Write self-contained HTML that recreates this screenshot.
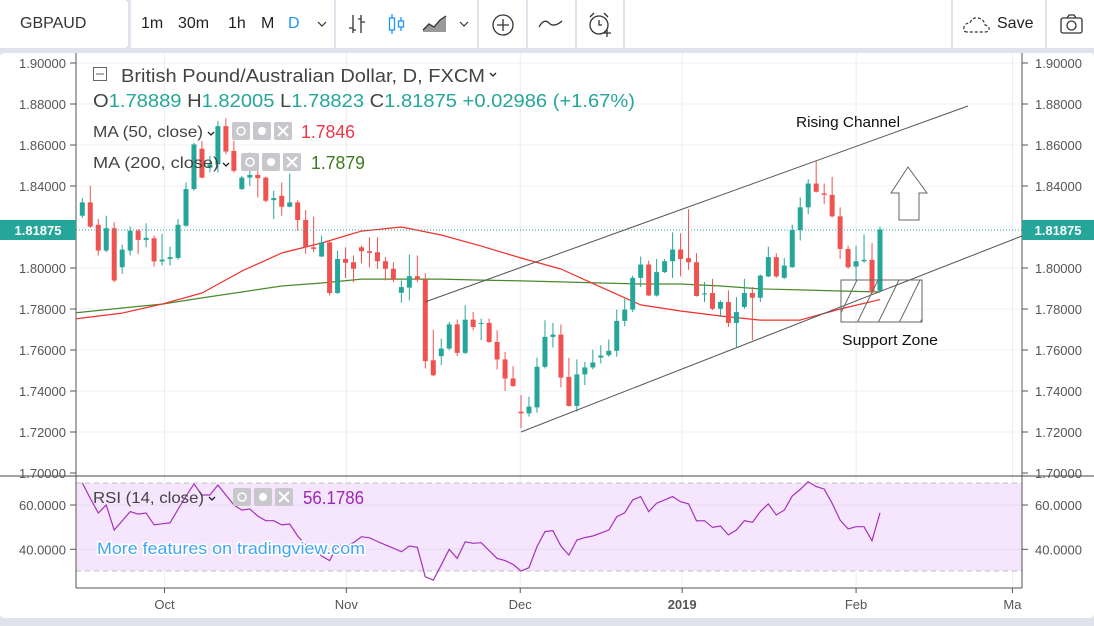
<!DOCTYPE html>
<html><head><meta charset="utf-8">
<style>
html,body{margin:0;padding:0;background:#e0e3eb;}
body{width:1094px;height:626px;overflow:hidden;position:relative;font-family:"Liberation Sans",sans-serif;}
.tb{position:absolute;top:0;height:48px;background:#fff;}
.tt{position:absolute;top:15px;font-size:16px;color:#222;}
</style></head>
<body>
<div style="position:absolute;left:0;top:0;width:1094px;height:48px;">
 <div class="tb" style="left:0;width:128px;border-radius:0 4px 4px 0"><span class="tt" style="left:20px;font-size:16px;color:#333">GBPAUD</span></div>
 <div class="tb" style="left:131px;width:203px;">
  <span class="tt" style="left:10px">1m</span>
  <span class="tt" style="left:47px">30m</span>
  <span class="tt" style="left:97px">1h</span>
  <span class="tt" style="left:130px">M</span>
  <span class="tt" style="left:157px;color:#2196f3">D</span>
  <svg style="position:absolute;left:186px;top:20px" width="10" height="8"><path d="M1 2 L5 6 L9 2" stroke="#333" fill="none" stroke-width="1.2"/></svg>
 </div>
 <div class="tb" style="left:336px;width:141px;">
  <svg style="position:absolute;left:10px;top:13px" width="22" height="22"><path d="M7 2 V20 M3 15 H7 M7 17 H10 M15 2 V20 M12 6 H15 M15 9 H19" stroke="#333" stroke-width="1.3" fill="none"/></svg>
  <svg style="position:absolute;left:50px;top:13px" width="22" height="22"><path d="M6 1 V21 M15 4 V18" stroke="#2196f3" stroke-width="1.3"/><rect x="3.5" y="5" width="5" height="12" fill="#fff" stroke="#2196f3" stroke-width="1.3"/><rect x="12.5" y="8" width="5" height="6" fill="#fff" stroke="#2196f3" stroke-width="1.3"/></svg>
  <svg style="position:absolute;left:86px;top:14px" width="26" height="20"><path d="M1 16 L7 10 L12 13 L18 6 L24 2 L24 18 L1 18 Z" fill="#999"/><path d="M1 16 L7 10 L12 13 L18 6 L24 2" stroke="#333" stroke-width="1.3" fill="none"/></svg>
  <svg style="position:absolute;left:123px;top:20px" width="10" height="8"><path d="M1 2 L5 6 L9 2" stroke="#333" fill="none" stroke-width="1.2"/></svg>
 </div>
 <div class="tb" style="left:479px;width:47px;"><svg style="position:absolute;left:12px;top:13px" width="24" height="24"><circle cx="12" cy="12" r="10" stroke="#333" stroke-width="1.3" fill="none"/><path d="M12 6 V18 M6 12 H18" stroke="#333" stroke-width="1.3"/></svg></div>
 <div class="tb" style="left:528px;width:47px;"><svg style="position:absolute;left:10px;top:16px" width="26" height="16"><path d="M1 11 Q6 2 11 7 T24 5" stroke="#333" stroke-width="1.3" fill="none"/></svg></div>
 <div class="tb" style="left:577px;width:46px;"><svg style="position:absolute;left:10px;top:11px" width="28" height="28"><circle cx="12" cy="14" r="9" stroke="#333" stroke-width="1.3" fill="none"/><path d="M12 9 V14 H15 M3 6 L7 2 M21 6 L17 2 M20 18 V26 M16 22 H24" stroke="#333" stroke-width="1.3" fill="none"/></svg></div>
 <div class="tb" style="left:625px;width:326px;"></div>
 <div class="tb" style="left:953px;width:92px;"><svg style="position:absolute;left:10px;top:15px" width="30" height="20"><path d="M4 17 Q0 17 1 12 Q2 8 7 8 Q9 2 15 3 Q21 4 22 10 Q27 11 26 15 Q25 17 22 17 Z" stroke="#333" stroke-dasharray="3 2" fill="none" stroke-width="1.2"/></svg><span class="tt" style="left:44px;color:#222">Save</span></div>
 <div class="tb" style="left:1047px;width:47px;"><svg style="position:absolute;left:12px;top:13px" width="26" height="22"><rect x="2" y="5" width="21" height="15" rx="2" stroke="#333" stroke-width="1.3" fill="none"/><path d="M8 5 L10 2 H15 L17 5" stroke="#333" stroke-width="1.3" fill="none"/><circle cx="12.5" cy="12.5" r="4.5" stroke="#333" stroke-width="1.3" fill="none"/></svg></div>
</div>

<svg id="chart" style="position:absolute;left:0;top:0" width="1094" height="626">
 <defs>
  <pattern id="hatch" patternUnits="userSpaceOnUse" width="21" height="43" x="841" y="280">
   <path d="M-5 43 L16 0 M16 43 L37 0" stroke="#666" stroke-width="1"/>
  </pattern>
 </defs>
 <rect x="0" y="53" width="1094" height="565" rx="4" fill="#fff"/>
 <g id="grid"></g>
 <rect x="76" y="483" width="946" height="88" fill="#f5e6fd"/>
 <g id="rsigrid"></g>
 <line x1="76" x2="1022" y1="483" y2="483" stroke="#bdbdbd" stroke-dasharray="5 4"/>
 <line x1="76" x2="1022" y1="571" y2="571" stroke="#bdbdbd" stroke-dasharray="5 4"/>
 <g id="ma"></g>
 <g id="candles"></g>
 <g id="rsi"></g>
 <line x1="76" x2="1022" y1="230" y2="230" stroke="#26a69a" stroke-dasharray="1 2"/>
 <line x1="425" y1="302" x2="968" y2="106" stroke="#555" stroke-width="1"/>
 <line x1="521" y1="432" x2="1022" y2="236" stroke="#555" stroke-width="1"/>
 <rect x="841" y="280" width="81" height="42" fill="url(#hatch)" stroke="#666"/>
 <path d="M908 167 L927 193 L919 193 L919 220 L899 220 L899 193 L891 193 Z" fill="#fff" stroke="#666"/>
 <text x="796" y="127" font-size="15" fill="#111" font-family="Liberation Sans, sans-serif" textLength="104" lengthAdjust="spacingAndGlyphs">Rising Channel</text>
 <text x="842" y="345" font-size="15" fill="#111" font-family="Liberation Sans, sans-serif" textLength="96" lengthAdjust="spacingAndGlyphs">Support Zone</text>
 <line x1="0" x2="1094" y1="476" y2="476" stroke="#444" stroke-width="1"/>
 <line x1="76" x2="76" y1="53" y2="588" stroke="#555"/>
 <line x1="1022" x2="1022" y1="53" y2="588" stroke="#555"/>
 <line x1="76" x2="1022" y1="588" y2="588" stroke="#555"/>
 <g id="axes" font-family="Liberation Sans, sans-serif" font-size="13" fill="#555"></g>
 <rect x="0" y="220" width="76" height="20" fill="#26a69a"/>
 <text x="38" y="235" text-anchor="middle" font-size="13" font-weight="bold" fill="#fff" font-family="Liberation Sans, sans-serif">1.81875</text>
 <rect x="1022" y="220" width="72" height="20" fill="#26a69a"/>
 <text x="1058" y="235" text-anchor="middle" font-size="13" font-weight="bold" fill="#fff" font-family="Liberation Sans, sans-serif">1.81875</text>

 <g font-family="Liberation Sans, sans-serif">
  <rect x="93.5" y="67.5" width="13" height="13" fill="none" stroke="#666"/>
  <line x1="96" x2="104" y1="74" y2="74" stroke="#666"/>
  <text x="121" y="82" font-size="18" fill="#444" textLength="364" lengthAdjust="spacingAndGlyphs">British Pound/Australian Dollar, D, FXCM</text>
  <path d="M490 73 L493 76 L496 73" stroke="#222" fill="none" stroke-width="1.3"/>
  <text x="93" y="107" font-size="18" fill="#26a69a" textLength="542" lengthAdjust="spacingAndGlyphs"><tspan fill="#444">O</tspan>1.78889 <tspan fill="#444">H</tspan>1.82005 <tspan fill="#444">L</tspan>1.78823 <tspan fill="#444">C</tspan>1.81875 +0.02986 (+1.67%)</text>
  <text x="93" y="137" font-size="16" fill="#444" textLength="110" lengthAdjust="spacingAndGlyphs">MA (50, close)</text>
  <path d="M208 132 L211 135 L214 132" stroke="#222" fill="none" stroke-width="1.3"/>
  <g fill="#c8c8cc"><rect x="232" y="122" width="18" height="18" rx="2"/><rect x="253" y="122" width="18" height="18" rx="2"/><rect x="274" y="122" width="18" height="18" rx="2"/></g>
  <circle cx="241" cy="131" r="4" fill="none" stroke="#fff" stroke-width="1.5"/><circle cx="262" cy="131" r="4" fill="#fff"/><path d="M278 126 L288 136 M288 126 L278 136" stroke="#fff" stroke-width="2"/>
  <text x="301" y="138" font-size="18" fill="#f23645" textLength="54" lengthAdjust="spacingAndGlyphs">1.7846</text>
  <text x="93" y="168" font-size="16" fill="#444" textLength="126" lengthAdjust="spacingAndGlyphs">MA (200, close)</text>
  <path d="M223 163 L226 166 L229 163" stroke="#222" fill="none" stroke-width="1.3"/>
  <g fill="#c8c8cc"><rect x="241" y="153" width="18" height="18" rx="2"/><rect x="262" y="153" width="18" height="18" rx="2"/><rect x="283" y="153" width="18" height="18" rx="2"/></g>
  <circle cx="250" cy="162" r="4" fill="none" stroke="#fff" stroke-width="1.5"/><circle cx="271" cy="162" r="4" fill="#fff"/><path d="M287 157 L297 167 M297 157 L287 167" stroke="#fff" stroke-width="2"/>
  <text x="311" y="169" font-size="18" fill="#3d7a1e" textLength="54" lengthAdjust="spacingAndGlyphs">1.7879</text>
 </g>
 <g font-family="Liberation Sans, sans-serif">
  <text x="93" y="503" font-size="16" fill="#444" textLength="111" lengthAdjust="spacingAndGlyphs">RSI (14, close)</text>
  <path d="M209 497 L212 500 L215 497" stroke="#222" fill="none" stroke-width="1.3"/>
  <g fill="#c8c8cc"><rect x="233" y="488" width="18" height="18" rx="2"/><rect x="254" y="488" width="18" height="18" rx="2"/><rect x="275" y="488" width="18" height="18" rx="2"/></g>
  <circle cx="242" cy="497" r="4" fill="none" stroke="#fff" stroke-width="1.5"/><circle cx="263" cy="497" r="4" fill="#fff"/><path d="M279 492 L289 502 M289 492 L279 502" stroke="#fff" stroke-width="2"/>
  <text x="303" y="504" font-size="18" fill="#9c27b0" textLength="61" lengthAdjust="spacingAndGlyphs">56.1786</text>
 </g>
 <text x="97" y="554" font-size="17" fill="#42a5f5" stroke="#fff" stroke-width="3" paint-order="stroke" font-family="Liberation Sans, sans-serif" textLength="268" lengthAdjust="spacingAndGlyphs">More features on tradingview.com</text>
</svg>

<script>
const opens=[1.8255,1.8320,1.8211,1.8085,1.8194,1.8004,1.8085,1.8182,1.8137,1.8145,1.8032,1.8044,1.8049,1.8206,1.8385,1.8582,1.8490,1.8506,1.8692,1.8571,1.8385,1.8441,1.8454,1.8441,1.8331,1.8352,
1.8299,1.8320,1.8234,1.8101,1.8056,1.8125,1.7878,1.8044,1.8028,1.8101,1.8082,1.8077,1.8033,1.7996,1.7879,1.7904,1.7960,1.7944,1.7550,1.7570,1.7607,1.7725,1.7586,1.7748,1.7729,1.7732,
1.7639,1.7554,1.7461,1.7299,1.7291,1.7320,1.7518,1.7664,1.7675,1.7469,1.7327,1.7481,1.7515,1.7563,1.7575,1.7596,1.7742,1.7797,1.7952,1.8017,1.7866,1.7980,1.8033,1.8090,1.8048,1.8028,
1.7871,1.7878,1.7801,1.7834,1.7732,1.7810,1.7878,1.7855,1.7959,1.8053,1.7952,1.8004,1.8185,1.8296,1.8412,1.8364,1.8357,1.8252,1.8093,1.8007,1.8033,1.8040,1.7889];
const highs=[1.8341,1.8401,1.8239,1.8255,1.8223,1.8114,1.8202,1.8190,1.8218,1.8158,1.8166,1.8104,1.8239,1.8417,1.8611,1.8620,1.8547,1.8717,1.8730,1.8620,1.8449,1.8563,1.8490,1.8445,1.8377,1.8417,
1.8461,1.8331,1.8283,1.8250,1.8158,1.8134,1.8085,1.8101,1.8061,1.8109,1.8150,1.8150,1.8053,1.8028,1.7939,1.8066,1.8061,1.7975,1.7699,1.7656,1.7737,1.7748,1.7818,1.7785,1.7753,1.7753,
1.7696,1.7591,1.7521,1.7380,1.7372,1.7563,1.7745,1.7732,1.7725,1.7562,1.7554,1.7542,1.7602,1.7623,1.7651,1.7797,1.7850,1.7963,1.8056,1.8036,1.8044,1.8044,1.8174,1.8169,1.8287,1.8072,
1.7931,1.7947,1.7842,1.7891,1.7858,1.7947,1.7907,1.7968,1.8104,1.8072,1.8049,1.8211,1.8344,1.8433,1.8519,1.8412,1.8445,1.8296,1.8109,1.8109,1.8163,1.8121,1.8201];
const lows=[1.8244,1.8195,1.8061,1.8077,1.7931,1.7972,1.8061,1.8069,1.8101,1.8007,1.8012,1.8012,1.8040,1.8202,1.8377,1.8438,1.8466,1.8466,1.8555,1.8466,1.8380,1.8401,1.8344,1.8320,1.8239,1.8255,
1.8296,1.8182,1.8069,1.8077,1.8053,1.7866,1.7874,1.7951,1.7931,1.8023,1.8004,1.7996,1.7939,1.7931,1.7831,1.7842,1.7931,1.7510,1.7473,1.7526,1.7599,1.7570,1.7580,1.7696,1.7648,1.7635,
1.7505,1.7400,1.7421,1.7218,1.7275,1.7294,1.7510,1.7612,1.7418,1.7324,1.7299,1.7429,1.7505,1.7534,1.7567,1.7567,1.7716,1.7785,1.7907,1.7863,1.7861,1.7975,1.7951,1.7959,1.7991,1.7861,
1.7834,1.7795,1.7761,1.7712,1.7615,1.7801,1.7648,1.7834,1.7955,1.7952,1.7947,1.8001,1.8134,1.8263,1.8368,1.8312,1.8247,1.8044,1.7996,1.7939,1.8025,1.7874,1.7882];
const closes=[1.8320,1.8202,1.8085,1.8194,1.7939,1.8090,1.8182,1.8137,1.8147,1.8032,1.8041,1.8053,1.8211,1.8385,1.8603,1.8441,1.8506,1.8692,1.8568,1.8474,1.8441,1.8454,1.8438,1.8328,1.8341,1.8299,
1.8320,1.8234,1.8101,1.8093,1.8125,1.7878,1.8044,1.8025,1.7996,1.8082,1.8074,1.8033,1.7996,1.7942,1.7907,1.7960,1.7944,1.7546,1.7477,1.7607,1.7725,1.7586,1.7748,1.7712,1.7732,1.7639,
1.7554,1.7461,1.7424,1.7291,1.7324,1.7518,1.7664,1.7675,1.7465,1.7327,1.7481,1.7515,1.7539,1.7573,1.7596,1.7742,1.7797,1.7952,1.8017,1.7866,1.7980,1.8033,1.8090,1.8044,1.8028,1.7863,
1.7876,1.7801,1.7834,1.7732,1.7785,1.7878,1.7855,1.7963,1.8053,1.7959,1.8012,1.8185,1.8296,1.8412,1.8372,1.8357,1.8252,1.8093,1.8004,1.8033,1.8040,1.7882,1.8188];
const rsiValues=[70,63,56.4,60,48.7,52.8,57,55.9,56.4,51,51.5,51.9,58,64,69.5,64.5,64.5,69,64.5,60,57.7,58.2,55,52.9,52.9,51,51.4,46,42,40,37,34.9,42,41.5,43,45.7,45.2,43.5,42,40.5,38.9,41.5,40.9,27.6,26.1,33,40,35.9,43.4,42.7,43,39.4,
35.9,34.9,33.2,30.2,31.7,41.2,48,48.4,41.5,37.4,44.2,45.3,46,47.3,48.7,54.7,56.5,62.3,63.8,57,60.8,62.3,63.8,61.5,60.5,52.8,52.9,49.9,50.5,46.5,48.7,52.9,52.2,57,60.5,55.5,57.7,64.1,67,70.5,68.3,67.2,60.8,53.2,49.2,50.2,50.2,43.9,56.5];
const maIndex=[0,5,10,15,20,25,30,35,40,45,50,55,60,65,70,75,80,85,90,95,100];
const ma50=[1.7756,1.7780,1.7824,1.7878,1.7985,1.8073,1.8122,1.8180,1.8200,1.8161,1.8107,1.8049,1.7995,1.7907,1.7820,1.7790,1.7766,1.7746,1.7746,1.7800,1.7846];
const ma200=[1.7785,1.7805,1.7824,1.7854,1.7883,1.7912,1.7927,1.7946,1.7946,1.7946,1.7941,1.7937,1.7932,1.7927,1.7922,1.7922,1.7912,1.7898,1.7893,1.7888,1.7883];
const priceTicks=[1.90,1.88,1.86,1.84,1.82,1.80,1.78,1.76,1.74,1.72,1.70];
const rsiTicks=[60,40];
const timeLabels=["Oct","Nov","Dec","2019","Feb","Ma"];
const timeLabelIdx=[10.3,33.1,54.9,75.2,97.0,116.6];

const NS="http://www.w3.org/2000/svg";
function xOf(i){return 82.3+i*7.977;}
function yP(p){return 63+(1.9-p)*2050;}
function yR(v){return 505+(60-v)*2.215;}
function mk(tag,attrs,parent){const e=document.createElementNS(NS,tag);for(const k in attrs)e.setAttribute(k,attrs[k]);parent.appendChild(e);return e;}

const grid=document.getElementById('grid'),rg=document.getElementById('rsigrid'),axes=document.getElementById('axes');
priceTicks.forEach(p=>{
 const y=yP(p);
 if(p>1.7){const l=mk('line',{x1:76,x2:1022,y1:y,y2:y,stroke:'#edf0f4'},grid);
 
 }
 mk('line',{x1:70,x2:76,y1:y,y2:y,stroke:'#555'},axes);
 mk('line',{x1:1022,x2:1028,y1:y,y2:y,stroke:'#555'},axes);
 const t1=mk('text',{x:66,y:y+5,'text-anchor':'end'},axes);t1.textContent=p.toFixed(5);
 
 
 const t2=mk('text',{x:1035,y:y+5},axes);t2.textContent=p.toFixed(5);
 
 
});
rsiTicks.forEach(v=>{
 const y=yR(v);
 mk('line',{x1:76,x2:1022,y1:y,y2:y,stroke:'#e3dcef'},rg);
 mk('line',{x1:70,x2:76,y1:y,y2:y,stroke:'#555'},axes);
 mk('line',{x1:1022,x2:1028,y1:y,y2:y,stroke:'#555'},axes);
 const t1=mk('text',{x:66,y:y+5,'text-anchor':'end'},axes);t1.textContent=v.toFixed(4);
 
 
 const t2=mk('text',{x:1035,y:y+5},axes);t2.textContent=v.toFixed(4);
 
 
});
timeLabels.forEach((s,k)=>{
 const x=xOf(timeLabelIdx[k]);
 mk('line',{x1:x,x2:x,y1:53,y2:588,stroke:'#e8eef5'},grid);
 mk('line',{x1:x,x2:x,y1:588,y2:593,stroke:'#555'},axes);
 const t=mk('text',{x:x,y:609,'text-anchor':'middle','font-weight':s==='2019'?'bold':'normal'},axes);t.textContent=s;
 
 
});

const cg=document.getElementById('candles');
opens.forEach((o,i)=>{
 const c=closes[i],up=c>=o,col=up?'#26a69a':'#ef5350',x=xOf(i);
 const g=mk('g',{},cg);
 
 
 mk('line',{x1:x,x2:x,y1:yP(highs[i]),y2:yP(lows[i]),stroke:col,'stroke-width':1},g);
 const top=yP(Math.max(o,c)),h=Math.max(1,yP(Math.min(o,c))-top);
 mk('rect',{x:x-2.5,y:top,width:5,height:h,fill:col},g);
});

const mg=document.getElementById('ma');
function maLine(arr,col,name){
 const pts=arr.map((v,k)=>xOf(maIndex[k]).toFixed(1)+','+yP(v).toFixed(1)).join(' ');
 const pl=mk('polyline',{points:'76,'+yP(arr[0]-(arr[1]-arr[0])*0.16).toFixed(1)+' '+pts,fill:'none',stroke:col,'stroke-width':1.2,'stroke-linejoin':'round'},mg);
 
 
}
maLine(ma200,'#4a8a2a','ma200-line');
maLine(ma50,'#f0302a','ma50-line');

const rl=mk('polyline',{points:rsiValues.map((v,i)=>xOf(i).toFixed(1)+','+yR(v).toFixed(1)).join(' '),fill:'none',stroke:'#a533b8','stroke-width':1.2},document.getElementById('rsi'));


</script>
</body></html>
